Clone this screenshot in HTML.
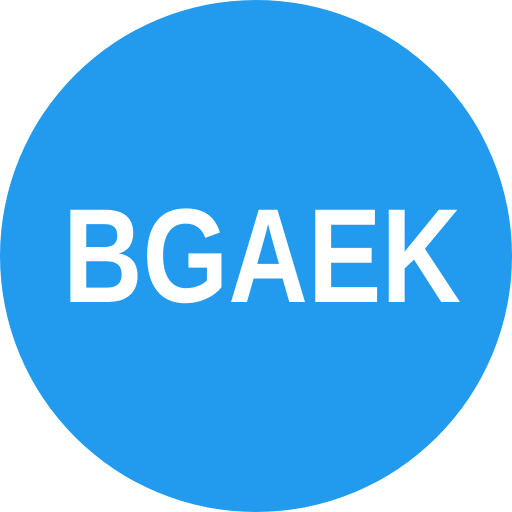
<!DOCTYPE html>
<html><head><meta charset="utf-8"><style>
html,body{margin:0;padding:0;background:#fff;width:512px;height:512px;overflow:hidden}
</style></head><body>
<svg width="512" height="512" viewBox="0 0 512 512">
<circle cx="256" cy="256" r="256" fill="#229AEE"/>
<text x="63" y="302" textLength="398" lengthAdjust="spacingAndGlyphs" font-family="Liberation Sans, sans-serif" font-weight="bold" font-size="134" fill="#fff">BGAEK</text>
</svg>
</body></html>
